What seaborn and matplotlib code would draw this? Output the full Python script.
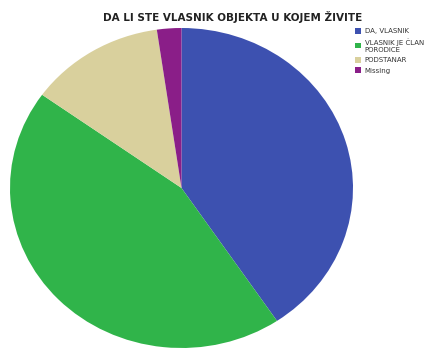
import matplotlib
matplotlib.use("Agg")
import matplotlib.pyplot as plt
import seaborn as sns

sns.set_theme(style="white")
plt.rcParams["font.family"] = ["DejaVu Sans"]

# Ownership of the dwelling (percent of respondents)
categories = ["DA, VLASNIK", "VLASNIK JE ČLAN\nPORODICE", "PODSTANAR", "Missing"]
shares = [40.6, 44.3, 12.8, 2.3]
colors = ["#3d51b0", "#30b44a", "#d9d09d", "#8a1e88"]
title = "DA LI STE VLASNIK OBJEKTA U KOJEM ŽIVITE"

W, H = 431, 350
fig = plt.figure(figsize=(W / 100, H / 100), dpi=100)
fig.patch.set_facecolor("white")

# pie occupies a slightly wide ellipse on the left
ax = fig.add_axes([10 / W, 2 / H, 343 / W, 320 / H])
wedges, _ = ax.pie(
    shares,
    colors=colors,
    startangle=90,
    counterclock=False,
    wedgeprops=dict(linewidth=0),
)
ax.set_aspect("auto")
ax.set_xlim(-1, 1)
ax.set_ylim(-1, 1)
ax.axis("off")

fig.text(233 / W, 1 - 17 / H, title, ha="center", va="center",
         fontsize=7.5, fontweight="bold", color="#222222")

leg = fig.legend(
    wedges, categories,
    loc="upper left", bbox_to_anchor=(355 / W, 1 - 28 / H),
    frameon=False, fontsize=5.0, handlelength=0.85, handleheight=0.85,
    handletextpad=0.55, labelspacing=0.6, borderaxespad=0, borderpad=0,
)
for t in leg.get_texts():
    t.set_color("#333333")

fig.savefig("out.png", dpi=100, facecolor="white")
